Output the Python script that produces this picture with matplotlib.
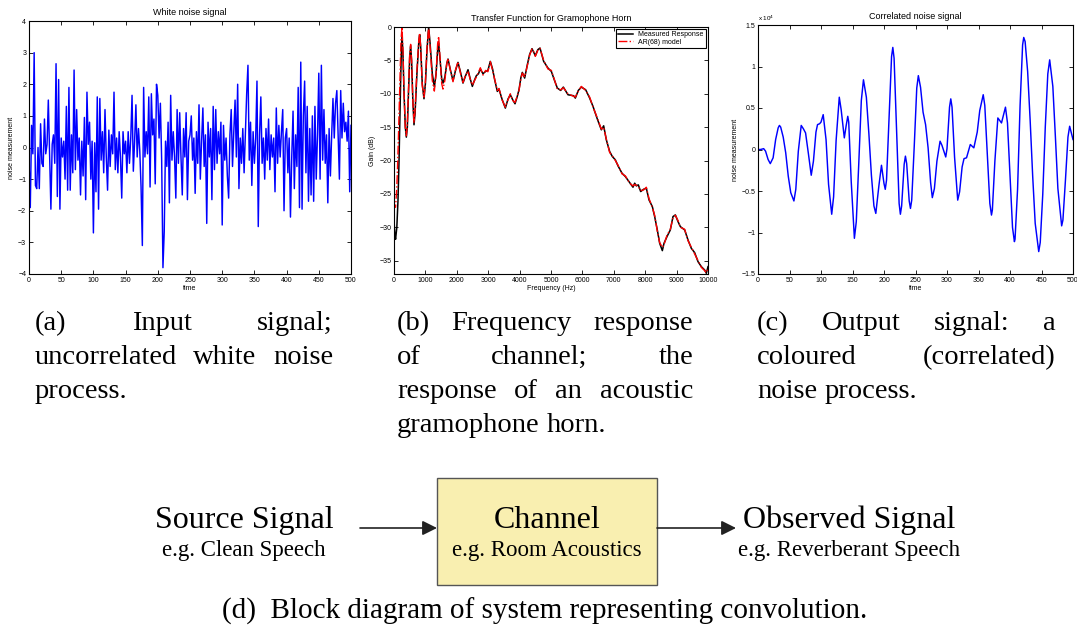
import numpy as np
import matplotlib
matplotlib.use('Agg')
import matplotlib.pyplot as plt
from matplotlib.patches import Rectangle
from matplotlib.ticker import FuncFormatter

SANS = 'Liberation Sans'
SERIF = 'Liberation Serif'

# (a) white noise input, one value every 2 samples
white_noise = [
    -0.4, -1.9, 0.7, -0.2, 3.0, -1.2, -1.3, 0.0, -1.3, 0.75,
    -0.5, -0.6, 0.9, -0.2, 0.1, 1.5, -0.3, -1.95, 0.1, 0.4,
    -0.5, 2.65, -1.55, 2.15, -1.95, 0.3, -0.3, 0.2, -1.0, 1.3,
    -1.35, 1.9, -1.35, 0.4, -0.8, 2.45, -0.7, 1.2, -0.4, 0.3,
    -1.5, 0.2, -0.9, 0.95, -1.65, 1.75, 0.1, 0.8, -1.0, 0.2,
    -2.7, 0.15, -1.4, 1.6, -1.95, 1.55, -0.4, 0.5, -0.8, 1.2,
    -0.3, -1.35, 0.55, -0.6, 0.4, -0.2, 1.75, -0.7, 0.3, -0.8,
    0.5, -0.3, -1.6, 0.5, -0.2, 0.2, -0.8, 0.5, -0.5, 0.3,
    1.65, -0.75, 0.2, 1.35, -0.3, 0.6, -0.1, -1.25, -3.1, 1.9,
    -0.3, 0.5, -0.2, 1.6, -1.25, 1.7, 0.4, 0.9, -1.15, 2.0,
    1.65, 0.3, 1.4, -0.4, -3.8, -2.65, 0.2, -0.6, 0.8, -1.75,
    1.65, -0.4, 0.5, -0.3, -1.6, 1.2, -0.5, 1.1, -0.3, -1.5,
    0.6, -0.3, 1.1, -1.65, 0.2, 0.4, 1.0, -0.4, 0.3, -1.45,
    0.5, -0.5, 1.35, -1.0, 0.2, 1.25, -0.6, 0.4, -2.4, 0.8,
    -0.3, 0.6, -1.65, 1.3, -0.7, 1.2, -0.5, 0.5, -0.2, 0.8,
    -2.45, 0.7, -0.4, 0.3, -0.9, -1.6, 0.4, 1.2, -0.6, 0.5,
    1.5, -0.3, 2.0, -1.3, 0.3, -0.5, 0.6, -0.8, 0.5, 1.7,
    2.6, -0.4, 0.8, -1.2, 0.5, -0.5, 0.3, 2.1, -2.5, 0.4,
    1.6, -0.5, 0.3, -1.0, 0.6, -0.4, 0.9, -0.7, 0.4, -0.3,
    0.3, -1.4, 1.25, -0.5, 0.7, -0.3, 0.5, 1.2, -2.0, 0.3,
    0.6, -0.8, 0.3, -2.2, -0.3, 1.15, -1.3, 0.4, -0.6, 1.9,
    -1.9, 2.7, -1.95, 1.0, 2.1, -0.8, 1.3, -1.7, 0.6, -1.5,
    1.0, -1.7, 1.3, -1.0, 0.4, 2.35, -1.0, 2.6, -0.4, 1.2,
    -0.5, 0.4, -1.75, 0.6, -0.9, 0.4, 1.55, 0.3, 1.4, 1.8,
    0.4, -1.0, 1.8, 0.3, 1.4, 0.5, 0.8, 0.2, 1.15, -1.4, 0.7,
]

# (b) gramophone horn transfer function
freq_hz = [
    0, 25, 50, 90, 127, 160, 190, 223, 255, 285,
    320, 360, 393, 425, 460, 500, 530, 560, 600, 637,
    670, 730, 790, 817, 850, 900, 955, 1000, 1050, 1104,
    1150, 1220, 1285, 1340, 1390, 1422, 1470, 1520, 1560, 1620,
    1680, 1720, 1800, 1879, 1960, 2038, 2120, 2197, 2280, 2357,
    2430, 2495, 2560, 2622, 2690, 2750, 2834, 2919, 2990, 3068,
    3140, 3206, 3291, 3344, 3440, 3546, 3630, 3705, 3780, 3854,
    3920, 3981, 4040, 4087, 4161, 4246, 4320, 4395, 4450, 4501,
    4580, 4650, 4766, 4904, 5011, 5096, 5202, 5308, 5393, 5541,
    5722, 5775, 5870, 5966, 6104, 6231, 6338, 6465, 6603, 6677,
    6762, 6868, 6953, 7049, 7134, 7261, 7367, 7505, 7611, 7665,
    7718, 7781, 7856, 7951, 8036, 8121, 8227, 8301, 8386, 8461,
    8546, 8599, 8694, 8800, 8885, 8960, 9045, 9119, 9257, 9363,
    9469, 9575, 9682, 9788, 9894, 9947, 10000,
]
measured_db = [
    -28.9, -31.0, -31.8, -30.0, -26.0, -20.0, -13.0, -5.5, -1.15, -4.0,
    -10.0, -15.0, -16.5, -15.0, -10.0, -4.5, -2.8, -5.0, -11.0, -14.65,
    -13.0, -7.0, -2.2, -1.15, -3.0, -8.5, -10.75, -8.5, -3.5, 0.0,
    -2.5, -7.0, -9.0, -7.0, -3.5, -2.4, -5.0, -7.8, -8.4, -7.5,
    -5.5, -4.8, -6.5, -8.05, -6.5, -5.3, -6.8, -8.4, -7.3, -6.4,
    -7.8, -8.9, -8.0, -7.3, -7.0, -6.3, -7.0, -6.65, -6.5, -5.15,
    -6.3, -7.9, -9.65, -9.3, -10.8, -12.15, -10.8, -10.15, -10.9, -11.5,
    -10.5, -9.4, -7.6, -6.8, -7.65, -5.65, -4.1, -3.25, -3.8, -4.3,
    -3.4, -3.15, -5.15, -6.15, -6.65, -7.8, -9.15, -9.5, -9.0, -10.15,
    -10.3, -10.65, -9.5, -9.0, -9.4, -10.65, -11.9, -13.65, -15.4, -14.8,
    -16.9, -18.65, -19.4, -19.9, -20.8, -21.9, -22.4, -23.3, -24.0, -23.4,
    -23.8, -23.65, -24.65, -24.3, -24.15, -25.9, -26.9, -28.4, -30.4, -32.4,
    -33.5, -32.4, -31.4, -30.4, -28.4, -28.15, -29.15, -29.9, -30.4, -31.9,
    -33.15, -33.8, -35.15, -35.9, -36.4, -36.9, -35.9,
]
ar_model_db = [
    -26.2, -27.0, -27.0, -24.0, -19.0, -13.0, -7.0, -2.0, 0.0, -3.5,
    -10.0, -15.0, -16.3, -14.5, -9.5, -4.0, -2.6, -5.0, -11.0, -14.3,
    -12.5, -6.5, -2.0, -0.9, -3.0, -8.8, -10.5, -8.2, -3.2, 0.0,
    -3.0, -8.0, -9.6, -7.0, -2.5, -1.4, -5.0, -8.5, -9.3, -8.0,
    -5.5, -4.7, -6.6, -8.2, -6.4, -5.2, -7.0, -8.3, -7.2, -6.6,
    -7.9, -8.7, -8.1, -7.5, -6.8, -6.1, -7.2, -6.5, -6.7, -5.2,
    -6.5, -7.8, -9.5, -9.2, -10.9, -12.0, -10.9, -10.0, -11.0, -11.3,
    -10.4, -9.5, -7.8, -6.9, -7.5, -5.8, -4.2, -3.3, -3.7, -4.4,
    -3.5, -3.2, -5.0, -6.3, -6.5, -7.7, -9.3, -9.4, -9.1, -10.0,
    -10.4, -10.5, -9.6, -8.9, -9.5, -10.5, -12.0, -13.5, -15.3, -15.0,
    -16.8, -18.8, -19.3, -20.0, -20.7, -22.0, -22.3, -23.4, -23.8, -23.6,
    -23.7, -23.9, -24.5, -24.4, -24.0, -25.7, -27.0, -28.2, -30.6, -32.3,
    -33.0, -32.6, -31.2, -30.3, -28.6, -28.2, -29.0, -30.0, -30.3, -32.0,
    -33.0, -34.0, -35.0, -36.0, -36.5, -36.8, -36.2,
]

# (c) correlated output, values in units of 1e4
corr_time = [
    0, 4, 9, 12, 16, 19.5, 24, 28, 32, 34, 36, 40, 44, 48, 52, 57, 60, 64,
    68.6, 72, 75.5, 80, 84.5, 88, 92, 94.5, 97.7, 100, 103.5, 108, 112, 117,
    120, 124, 129, 132, 137, 140, 142.5, 144, 148, 153, 156, 160, 164, 167.4,
    172, 176, 180, 184, 187, 192, 196, 200, 202, 204, 208, 212, 214, 216,
    220, 224, 226, 228, 232, 234, 236, 240, 242, 244, 248, 252, 254.5, 258,
    262, 266, 270, 274, 276.7, 280, 284, 289, 292, 298, 300, 304, 306, 308,
    312, 317, 320, 324, 327, 331, 337, 342.6, 348, 352, 357.5, 360, 364, 368,
    370.6, 372, 376, 380.7, 386.5, 392.8, 396, 400, 404, 407, 408, 412, 416,
    420, 421.8, 424, 428, 432, 436, 440, 445.6, 448, 452, 456, 460, 463, 468,
    472, 476, 482, 484, 488, 492, 494.7, 500,
]
corr_value = [
    0.00, 0.00, 0.01, -0.02, -0.12, -0.17, -0.10, 0.12, 0.26, 0.29, 0.27, 0.15, -0.04, -0.32, -0.52, -0.62, -0.48, -0.02,
    0.29, 0.25, 0.20, -0.05, -0.31, -0.14, 0.21, 0.30, 0.31, 0.33, 0.42, 0.12, -0.42, -0.78,
    -0.57, 0.11, 0.63, 0.48, 0.14, 0.29, 0.40, 0.33, -0.39, -1.07, -0.87, -0.16, 0.59, 0.84,
    0.63, 0.19, -0.31, -0.68, -0.77, -0.43, -0.19, -0.41, -0.48, -0.37, 0.38, 1.12, 1.23, 1.10,
    0.23, -0.65, -0.78, -0.68, -0.18, -0.08, -0.17, -0.62, -0.71, -0.61, 0.04, 0.74, 0.89, 0.75,
    0.45, 0.30, 0.02, -0.40, -0.58, -0.47, -0.14, 0.10, 0.05, -0.09, 0.01, 0.51, 0.61, 0.51,
    -0.09, -0.61, -0.51, -0.21, -0.11, -0.10, 0.06, 0.02, 0.21, 0.47, 0.66, 0.53, -0.06, -0.65,
    -0.79, -0.73, -0.14, 0.38, 0.32, 0.51, 0.32, -0.32, -0.94, -1.11, -1.08, -0.48, 0.53,
    1.26, 1.35, 1.30, 0.94, 0.35, -0.32, -0.89, -1.23, -1.12, -0.54, 0.27, 0.91, 1.08, 0.76,
    0.16, -0.47, -0.92, -0.85, -0.37, 0.15, 0.28, 0.12,
]

W, H = 1077, 630
fig = plt.figure(figsize=(W / 100, H / 100), dpi=100)


def px_axes(left, top, right, bottom):
    return fig.add_axes([left / W, 1 - bottom / H, (right - left) / W, (bottom - top) / H])


def tick_fmt(scale=1.0):
    return FuncFormatter(lambda v, p: f'{v / scale:g}'.replace('-', '\u2212'))


def matlab_style(ax):
    ax.tick_params(direction='in', top=True, right=True, length=3, width=0.6,
                   labelsize=5, pad=2)
    for s in ax.spines.values():
        s.set_linewidth(0.8)
    ax.yaxis.set_major_formatter(tick_fmt())
    ax.xaxis.set_major_formatter(tick_fmt())
    for lab in ax.get_xticklabels() + ax.get_yticklabels():
        lab.set_family(SANS)


# overlay in pixel coordinates for captions and block diagram
ov = fig.add_axes([0, 0, 1, 1], zorder=-1)
ov.set_xlim(0, W)
ov.set_ylim(H, 0)
ov.axis('off')

# (a)
ax1 = px_axes(29, 21, 351, 274)
t_white = np.linspace(0, 500, len(white_noise))
ax1.plot(t_white, white_noise, color='#0000ff', lw=1.05)
ax1.set_xlim(0, 500)
ax1.set_ylim(-4, 4)
ax1.set_xticks(np.arange(0, 501, 50))
ax1.set_yticks(np.arange(-4, 5, 1))
matlab_style(ax1)
ax1.set_title('White noise signal', fontsize=6.5, family=SANS, pad=4)
ax1.set_xlabel('time', fontsize=5, family=SANS, labelpad=1)
ax1.set_ylabel('noise measurement', fontsize=5, family=SANS, labelpad=2)

# (b)
ax2 = px_axes(394, 27, 708, 274)
ax2.plot(freq_hz, measured_db, color='black', lw=1.1, label='Measured Response')
ax2.plot(freq_hz, ar_model_db, color='red', lw=1.0, ls='-.', label='AR(68) model')
ax2.set_xlim(0, 10000)
ax2.set_ylim(-37, 0)
ax2.set_xticks(np.arange(0, 10001, 1000))
ax2.set_yticks(np.arange(-35, 1, 5))
matlab_style(ax2)
ax2.set_title('Transfer Function for Gramophone Horn', fontsize=6.5, family=SANS, pad=4)
ax2.set_xlabel('Frequency (Hz)', fontsize=5, family=SANS, labelpad=1)
ax2.set_ylabel('Gain (dB)', fontsize=5, family=SANS, labelpad=2)
leg = ax2.legend(loc='upper right', prop={'family': SANS, 'size': 5}, fancybox=False,
                 edgecolor='black', framealpha=1, borderaxespad=0.3, handlelength=2.2,
                 borderpad=0.3, labelspacing=0.1)
leg.get_frame().set_linewidth(0.8)

# (c)
ax3 = px_axes(758, 25, 1073, 274)
ax3.plot(corr_time, np.array(corr_value) * 1e4, color='#0000ff', lw=1.05)
ax3.set_xlim(0, 500)
ax3.set_ylim(-1.5e4, 1.5e4)
ax3.set_xticks(np.arange(0, 501, 50))
ax3.set_yticks(np.arange(-1.5e4, 1.6e4, 0.5e4))
matlab_style(ax3)
ax3.yaxis.set_major_formatter(tick_fmt(1e4))
ax3.text(0, 1.008, r'x 10$^4$', transform=ax3.transAxes, fontsize=4.5, family=SANS,
         va='bottom', ha='left')
ax3.set_title('Correlated noise signal', fontsize=6.5, family=SANS, pad=4)
ax3.set_xlabel('time', fontsize=5, family=SANS, labelpad=1)
ax3.set_ylabel('noise measurement', fontsize=5, family=SANS, labelpad=2)

# captions, justified like the LaTeX subfigure text
CAP_FS = 20.5
renderer = fig.canvas.get_renderer()


def put_line(words, x0, x1, y, justify=True, fs=CAP_FS):
    items = [ov.text(0, y, w, fontsize=fs, family=SERIF, va='baseline', ha='left')
             for w in words]
    widths = [t.get_window_extent(renderer=renderer).width for t in items]
    if justify and len(words) > 1:
        gap = (x1 - x0 - sum(widths)) / (len(words) - 1)
    else:
        gap = 0.25 * fs * 100 / 72
    x = x0
    for t, w in zip(items, widths):
        t.set_x(x)
        x += w + gap


cap_a = [['(a)', 'Input', 'signal;'], ['uncorrelated', 'white', 'noise'], ['process.']]
cap_b = [['(b)', 'Frequency', 'response'], ['of', 'channel;', 'the'],
         ['response', 'of', 'an', 'acoustic'], ['gramophone', 'horn.']]
cap_c = [['(c)', 'Output', 'signal:', 'a'], ['coloured', '(correlated)'], ['noise', 'process.']]
baselines = [330, 364, 398, 432]

for cap, (x0, x1) in [(cap_a, (35, 333)), (cap_b, (397, 693)), (cap_c, (757, 1056))]:
    for i, words in enumerate(cap):
        put_line(words, x0, x1, baselines[i], justify=(i < len(cap) - 1))

# (d) block diagram
ov.add_patch(Rectangle((437, 478), 220, 107, facecolor='#f9efb0', edgecolor='#555555', lw=1.0))
for xs, xe in [(360, 437), (657, 736)]:
    ov.annotate('', xy=(xe, 528), xytext=(xs, 528),
                arrowprops=dict(arrowstyle='-|>', color='#222222', lw=1.2,
                                mutation_scale=22, shrinkA=0, shrinkB=0))

BIG, SMALL = 23, 16.5
ov.text(244, 528, 'Source Signal', fontsize=BIG, family=SERIF, ha='center', va='baseline')
ov.text(244, 556, 'e.g. Clean Speech', fontsize=SMALL, family=SERIF, ha='center', va='baseline')
ov.text(547, 528, 'Channel', fontsize=BIG, family=SERIF, ha='center', va='baseline')
ov.text(547, 556, 'e.g. Room Acoustics', fontsize=SMALL, family=SERIF, ha='center', va='baseline')
ov.text(849, 528, 'Observed Signal', fontsize=BIG, family=SERIF, ha='center', va='baseline')
ov.text(849, 556, 'e.g. Reverberant Speech', fontsize=SMALL, family=SERIF, ha='center', va='baseline')
ov.text(545, 619, '(d)  Block diagram of system representing convolution.', fontsize=21,
        family=SERIF, ha='center', va='baseline')

fig.savefig('out.png', dpi=100)
